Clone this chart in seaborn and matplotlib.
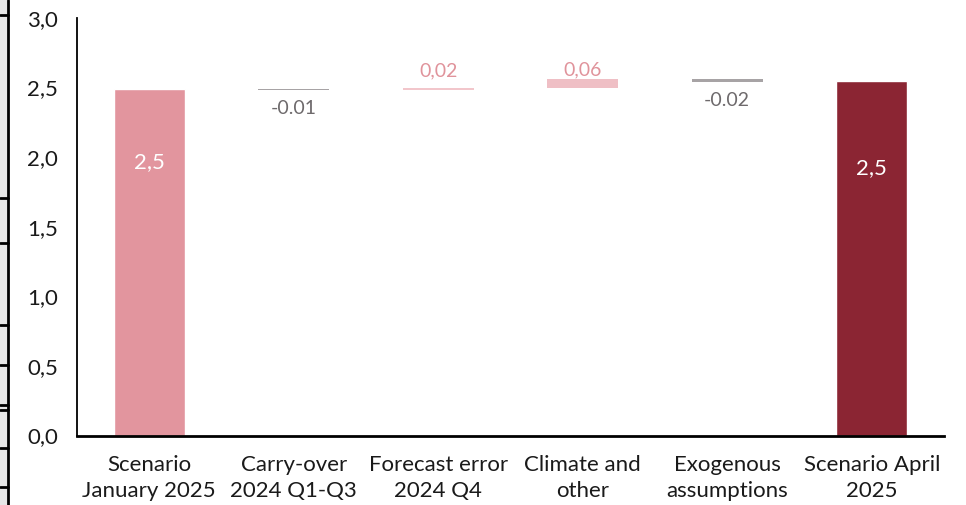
import numpy as np
import pandas as pd
import seaborn as sns
from matplotlib import pyplot as plt
from matplotlib.ticker import FuncFormatter
from matplotlib.patches import Rectangle
from matplotlib.lines import Line2D

# values
categories = [
    "Scenario\nJanuary 2025",
    "Carry-over\n2024 Q1-Q3",
    "Forecast error\n2024 Q4",
    "Climate and\nother",
    "Exogenous\nassumptions",
    "Scenario April\n2025",
]
start_value = 2.49
end_value = 2.55
deltas = [-0.01, 0.02, 0.06, -0.02]
delta_labels = ["-0.01", "0,02", "0,06", "-0.02"]
total_labels = ["2,5", "2,5"]

total_colors = ["#E2959E", "#8B2533"]
delta_colors = ["#A7A3A5", "#F2C6CB", "#EFBFC5", "#A7A3A5"]
delta_text_colors = ["#6E6A6C", "#E0939B", "#E0939B", "#6E6A6C"]

sns.set_theme(style="white")
plt.rcParams["font.family"] = ["Lato", "DejaVu Sans"]

fig = plt.figure(figsize=(9.66, 5.05), dpi=100)
ax = fig.add_axes([0.0797, 0.1376, 0.8975, 0.8268])

# totals at both ends
totals = pd.DataFrame(
    {"cat": [categories[0], categories[-1]], "value": [start_value, end_value]}
)
sns.barplot(
    data=totals,
    x="cat",
    y="value",
    hue="cat",
    palette=total_colors,
    order=categories,
    hue_order=[categories[0], categories[-1]],
    width=0.49,
    legend=False,
    saturation=1,
    ax=ax,
)

# floating delta bars
label_gap = [-7, 8, 3, -7]
level = start_value
for i, d in enumerate(deltas):
    bottom = level if d >= 0 else level + d
    ax.bar(i + 1, abs(d), width=0.49, bottom=bottom, color=delta_colors[i],
           linewidth=0)
    ax.annotate(delta_labels[i], (i + 1, level + d), xytext=(0, label_gap[i]),
                textcoords="offset points", ha="center",
                va="baseline" if d >= 0 else "top",
                fontsize=14, color=delta_text_colors[i])
    level += d

# white labels inside the total bars
label_drop = [53, 63]
for j, (xpos, val) in enumerate([(0, start_value), (5, end_value)]):
    ax.annotate(total_labels[j], (xpos, val), xytext=(0, -label_drop[j]),
                textcoords="offset points", ha="center", va="center",
                fontsize=16, color="white")

ax.set_xlim(-0.5, 5.5)
ax.set_ylim(0, 3.0)
ax.set_yticks(np.arange(0, 3.01, 0.5))
ax.yaxis.set_major_formatter(FuncFormatter(lambda v, p: f"{v:.1f}".replace(".", ",")))
ax.set_xlabel("")
ax.set_ylabel("")
ax.tick_params(axis="y", labelsize=16, length=0, pad=13.5, colors="#1a1a1a")
ax.tick_params(axis="x", labelsize=16, length=0, pad=14, colors="#1a1a1a")
for lab in ax.get_xticklabels():
    lab.set_linespacing(1.35)

sns.despine(ax=ax)
ax.spines["left"].set_color("black")
ax.spines["left"].set_linewidth(1.3)
ax.spines["bottom"].set_color("black")
ax.spines["bottom"].set_linewidth(2)

# cropped table edge on the far left of the original image
fig.patches.append(Rectangle((0, 0), 7 / 966, 1, transform=fig.transFigure,
                             color="#E6E6E6", zorder=0))
fig.lines.append(Line2D([8 / 966, 8 / 966], [0, 1], transform=fig.transFigure,
                        color="black", linewidth=2))
for yy in [15, 198, 243, 325, 365, 405, 410, 448, 487]:
    fig.lines.append(Line2D([0, 8 / 966], [1 - yy / 505, 1 - yy / 505],
                            transform=fig.transFigure, color="black", linewidth=2))

fig.savefig("out.png", dpi=100)
